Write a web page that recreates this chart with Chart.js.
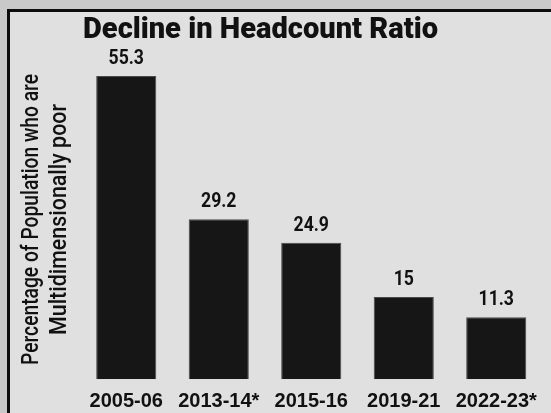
<!DOCTYPE html>
<html>
<head>
<meta charset="utf-8">
<script src="https://cdn.jsdelivr.net/npm/chart.js@4.4.1/dist/chart.umd.min.js"></script>
<style>
  html, body { margin: 0; padding: 0; background: #c9c9c9; width: 551px; height: 413px; overflow: hidden; }
  #frame { position: absolute; left: 7px; top: 9px; width: 541px; height: 401px;
           border-left: 3px solid #0d0d0d; border-top: 3px solid #0d0d0d; background: #e0e0e0; }
  #wrap { position: absolute; left: 0; top: 0; width: 541px; height: 401px; }
</style>
</head>
<body>
<div id="frame"><div id="wrap"><canvas id="c" width="541" height="401"></canvas></div></div>
<script>
const chartTitle = 'Decline in Headcount Ratio';
const yAxisTitle = ['Percentage of Population who are', 'Multidimensionally poor'];
const categories = ['2005-06', '2013-14*', '2015-16', '2019-21', '2022-23*'];
const headcountRatio = [55.3, 29.2, 24.9, 15, 11.3];

const FONT = 'Roboto, "DejaVu Sans", sans-serif';
const WIDE = '"Liberation Sans", Arial, sans-serif';

// draw text horizontally compressed to a target width (condensed look)
function condensedText(ctx, text, x, y, targetWidth, rot) {
  const w = ctx.measureText(text).width;
  const sx = Math.min(1, targetWidth / w);
  ctx.save();
  ctx.translate(x, y);
  if (rot) ctx.rotate(rot);
  ctx.scale(sx, 1);
  ctx.fillText(text, 0, 0);
  ctx.restore();
}

const annotate = {
  id: 'annotate',
  afterDatasetsDraw(chart) {
    const ctx = chart.ctx;
    const meta = chart.getDatasetMeta(0);
    const area = chart.chartArea;
    ctx.save();
    ctx.fillStyle = '#111';
    ctx.textAlign = 'center';
    ctx.textBaseline = 'alphabetic';
    // value labels
    ctx.font = 'bold 21px ' + FONT;
    const vScale = 0.84;
    meta.data.forEach((bar, i) => {
      const t = String(chart.data.datasets[0].data[i]);
      ctx.save();
      ctx.translate(bar.x, bar.y - 12);
      ctx.scale(vScale, 1);
      ctx.fillText(t, 0, 0);
      ctx.restore();
    });
    // title
    ctx.font = '900 29.5px ' + FONT;
    condensedText(ctx, chartTitle, 250.5, 26, 355);
    // y axis title (rotated, two lines)
    ctx.font = '500 24.5px ' + FONT;
    const cy = (area.top + area.bottom) / 2 + 2;
    const baselines = [28, 56];
    const widths = [291, 231];
    yAxisTitle.forEach((line, i) => {
      condensedText(ctx, line, baselines[i], cy, widths[i], -Math.PI / 2);
    });
    ctx.restore();
  }
};

new Chart(document.getElementById('c'), {
  type: 'bar',
  data: {
    labels: categories,
    datasets: [{
      data: headcountRatio,
      backgroundColor: '#161616',
      borderColor: '#4a4a4a',
      borderWidth: 1,
      barPercentage: 0.65,
      categoryPercentage: 1.0
    }]
  },
  options: {
    responsive: false,
    animation: false,
    events: [],
    layout: { padding: { top: 43.7, right: 8.5, bottom: 0, left: 0 } },
    plugins: { legend: { display: false }, tooltip: { enabled: false }, title: { display: false } },
    scales: {
      x: {
        grid: { display: false, drawTicks: false },
        border: { display: false },
        ticks: { color: '#111', padding: 10, maxRotation: 0, autoSkip: false,
                 font: { family: WIDE, size: 20, weight: 'bold' } },
        afterFit(s) { s.height = 33.7; }
      },
      y: {
        min: 0, max: 59,
        grid: { display: false, drawTicks: false },
        border: { display: false },
        ticks: { display: false },
        title: { display: false, text: yAxisTitle },
        afterFit(s) { s.width = 70; }
      }
    }
  },
  plugins: [annotate]
});
</script>
</body>
</html>
